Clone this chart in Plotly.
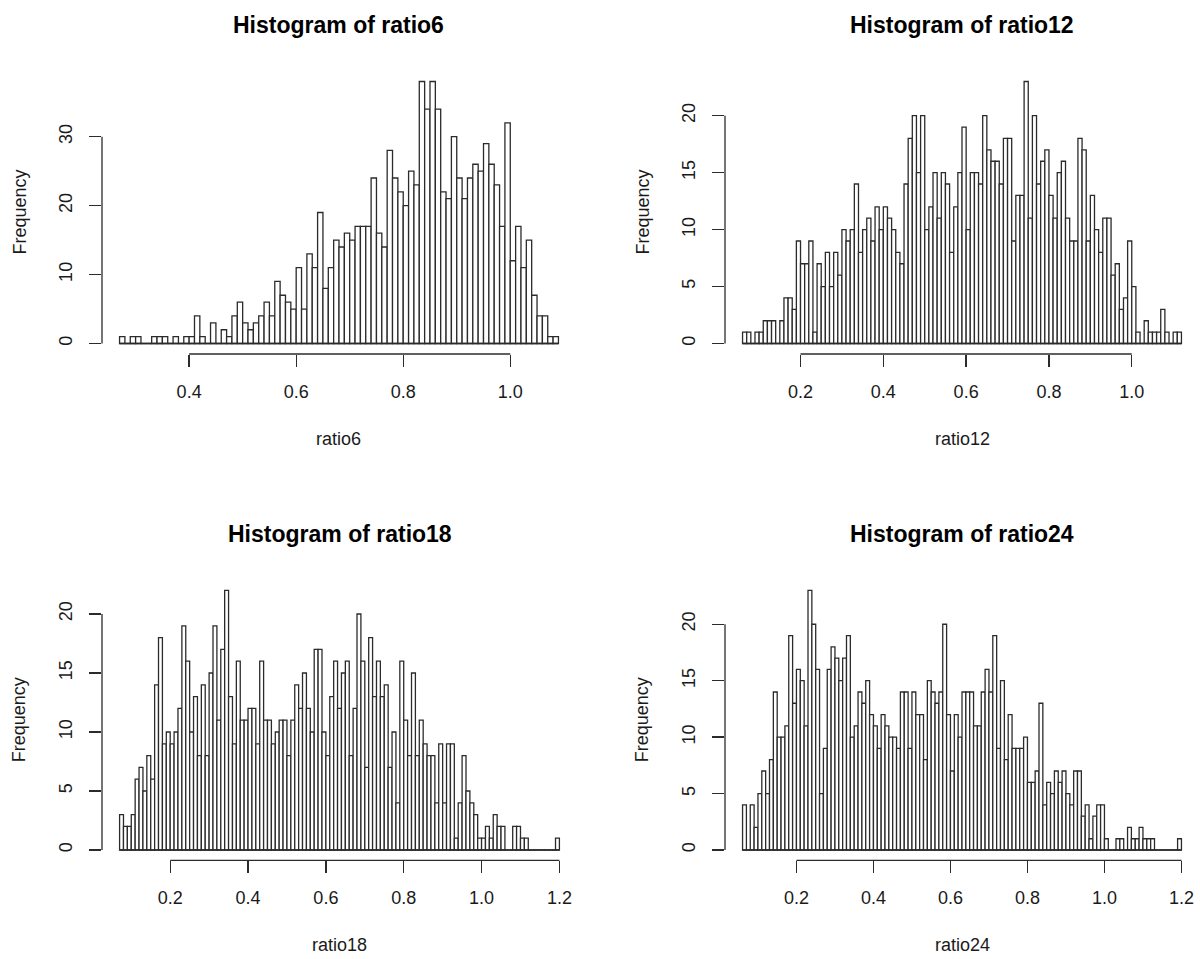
import numpy as np
import plotly.graph_objects as go

# ---------------- data (bin counts) ----------------
bin_width = 0.01

ratio6_start = 0.27
ratio6_counts = [1, 0, 1, 1, 0, 0, 1, 1, 1, 0,
                 1, 0, 1, 1, 4, 1, 0, 3, 0, 2,
                 1, 4, 6, 3, 2, 3, 4, 6, 4, 9,
                 7, 6, 5, 11, 5, 13, 11, 19, 8, 11,
                 15, 14, 16, 15, 17, 17, 17, 24, 16, 14,
                 28, 24, 22, 20, 25, 23, 38, 34, 38, 34,
                 22, 21, 30, 24, 21, 24, 26, 25, 29, 26,
                 23, 17, 32, 12, 17, 11, 15, 7, 4, 4,
                 1, 1]

ratio12_start = 0.06
ratio12_counts = [1, 1, 0, 1, 1, 2, 2, 2, 0, 2,
                  4, 4, 3, 9, 7, 7, 9, 1, 7, 5,
                  8, 5, 8, 6, 10, 9, 10, 14, 8, 10,
                  11, 9, 12, 10, 12, 11, 10, 8, 7, 14,
                  18, 20, 15, 20, 10, 12, 15, 11, 15, 14,
                  8, 12, 15, 19, 10, 15, 15, 14, 20, 17,
                  16, 16, 14, 18, 18, 9, 13, 13, 23, 11,
                  20, 14, 16, 17, 13, 11, 15, 16, 11, 9,
                  9, 18, 17, 9, 13, 10, 8, 11, 11, 6,
                  7, 3, 4, 9, 5, 1, 0, 2, 1, 1,
                  1, 3, 1, 0, 1, 1]

ratio18_start = 0.07
ratio18_counts = [3, 2, 2, 3, 6, 7, 5, 8, 6, 14,
                  18, 9, 10, 9, 10, 12, 19, 16, 10, 13,
                  8, 14, 8, 15, 19, 11, 17, 22, 13, 9,
                  16, 11, 11, 12, 12, 9, 16, 11, 11, 9,
                  10, 11, 11, 8, 11, 14, 12, 15, 12, 10,
                  17, 17, 10, 8, 13, 16, 12, 15, 16, 8,
                  12, 20, 16, 7, 18, 13, 16, 13, 14, 7,
                  10, 4, 16, 11, 8, 15, 8, 11, 9, 8,
                  8, 4, 9, 4, 9, 9, 1, 4, 8, 5,
                  4, 3, 1, 1, 2, 1, 3, 2, 2, 0,
                  0, 2, 2, 1, 1, 0, 0, 0, 0, 0,
                  0, 0, 1]

ratio24_start = 0.06
ratio24_counts = [4, 0, 4, 2, 5, 7, 5, 8, 14, 10,
                  10, 11, 19, 13, 16, 15, 11, 23, 20, 16,
                  5, 9, 16, 18, 17, 15, 17, 19, 10, 11,
                  14, 13, 15, 12, 11, 9, 12, 11, 10, 10,
                  9, 14, 14, 9, 14, 12, 12, 8, 15, 14,
                  13, 14, 20, 12, 7, 12, 10, 14, 14, 14,
                  11, 11, 14, 16, 14, 19, 9, 15, 8, 12,
                  9, 9, 9, 10, 6, 6, 7, 13, 4, 6,
                  5, 7, 6, 7, 5, 4, 7, 7, 3, 4,
                  1, 3, 4, 4, 1, 0, 0, 1, 1, 0,
                  2, 1, 1, 2, 1, 1, 1, 0, 0, 0,
                  0, 0, 0, 1]

titles = ["Histogram of ratio6", "Histogram of ratio12",
          "Histogram of ratio18", "Histogram of ratio24"]
x_titles = ["ratio6", "ratio12", "ratio18", "ratio24"]
y_title = "Frequency"

x_ticks = [[0.4, 0.6, 0.8, 1.0],
           [0.2, 0.4, 0.6, 0.8, 1.0],
           [0.2, 0.4, 0.6, 0.8, 1.0, 1.2],
           [0.2, 0.4, 0.6, 0.8, 1.0, 1.2]]
y_ticks = [[0, 10, 20, 30],
           [0, 5, 10, 15, 20],
           [0, 5, 10, 15, 20],
           [0, 5, 10, 15, 20]]

starts = [ratio6_start, ratio12_start, ratio18_start, ratio24_start]
counts = [ratio6_counts, ratio12_counts, ratio18_counts, ratio24_counts]

# ---------------- layout geometry (pixels) ----------------
W, H = 1200, 959
# plot regions: left, right, top, bottom
regions = [(102, 576, 71, 354), (725, 1199, 71, 354),
           (102, 577, 580, 860.4), (725, 1199, 580, 860.4)]

FONT = "Liberation Sans, Arial, sans-serif"
LINE = "#2b2b2b"
TXT = "#1a1a1a"
LBL = 18

fig = go.Figure()
annotations = []
shapes = []

for i in range(4):
    c = np.array(counts[i], dtype=float)
    n = len(c)
    edges = starts[i] + bin_width * np.arange(n + 1)
    centers = edges[:-1] + bin_width / 2
    lo, hi = edges[0], edges[-1]
    xr = [lo - 0.04 * (hi - lo), hi + 0.04 * (hi - lo)]
    ymax = c.max()
    yr = [-0.04 * ymax, 1.04 * ymax]

    sfx = "" if i == 0 else str(i + 1)
    xa, ya = "x" + sfx, "y" + sfx

    # baseline (R draws zero-height bins as a line on 0)
    fig.add_trace(go.Scatter(x=[lo, hi], y=[0, 0], mode="lines",
                             line=dict(color=LINE, width=1.3),
                             xaxis=xa, yaxis=ya, showlegend=False,
                             hoverinfo="skip"))
    fig.add_trace(go.Bar(x=centers, y=c, width=bin_width,
                         marker=dict(color="white",
                                     line=dict(color=LINE, width=1.3)),
                         xaxis=xa, yaxis=ya, showlegend=False))

    L, R, T, B = regions[i]
    xdom = [L / W, R / W]
    ydom = [1 - B / H, 1 - T / H]

    fig.layout["xaxis" + sfx] = dict(
        domain=xdom, range=xr, anchor=ya, showgrid=False, zeroline=False,
        showline=False, ticks="outside", ticklen=12, tickwidth=1.3,
        tickcolor=LINE, tickvals=x_ticks[i],
        ticktext=[f"{v:.1f}" for v in x_ticks[i]],
        tickfont=dict(family=FONT, size=LBL, color=TXT),
        ticklabelstandoff=9, ticklabeloverflow="allow", fixedrange=True)
    fig.layout["yaxis" + sfx] = dict(
        domain=ydom, range=yr, anchor=xa, showgrid=False, zeroline=False,
        showline=False, ticks="outside", ticklen=12, tickwidth=1.3,
        tickcolor=LINE, tickvals=y_ticks[i],
        ticktext=[str(v) for v in y_ticks[i]], tickangle=-90,
        tickfont=dict(family=FONT, size=LBL, color=TXT),
        ticklabelstandoff=10, fixedrange=True)

    # R-style axis lines spanning first..last tick
    shapes.append(dict(type="line", xref=xa, yref=ya + " domain",
                       x0=x_ticks[i][0], x1=x_ticks[i][-1], y0=0, y1=0,
                       line=dict(color=LINE, width=1.3)))
    shapes.append(dict(type="line", xref=xa + " domain", yref=ya,
                       x0=0, x1=0, y0=y_ticks[i][0], y1=y_ticks[i][-1],
                       line=dict(color=LINE, width=1.3)))

    xc = (xdom[0] + xdom[1]) / 2
    yc = (ydom[0] + ydom[1]) / 2
    annotations.append(dict(text="<b>" + titles[i] + "</b>", xref="paper",
                            yref="paper", x=xc, y=1 - (T - 46) / H,
                            xanchor="center", yanchor="middle",
                            showarrow=False,
                            font=dict(family=FONT, size=23, color="black")))
    annotations.append(dict(text=x_titles[i], xref="paper", yref="paper",
                            x=xc, y=1 - (B + 85) / H, xanchor="center",
                            yanchor="middle", showarrow=False,
                            font=dict(family=FONT, size=LBL, color=TXT)))
    annotations.append(dict(text=y_title, xref="paper", yref="paper",
                            x=(L - 83) / W, y=yc, xanchor="center",
                            yanchor="middle", textangle=-90,
                            showarrow=False,
                            font=dict(family=FONT, size=LBL, color=TXT)))

fig.update_layout(width=W, height=H, margin=dict(l=0, r=0, t=0, b=0),
                  paper_bgcolor="white", plot_bgcolor="white",
                  bargap=0, barmode="overlay",
                  annotations=annotations, shapes=shapes)

fig.write_html("out.html",
               config={"displayModeBar": False, "staticPlot": True},
               post_script="document.body.style.margin='0';"
                           "document.body.style.padding='0';"
                           "document.body.style.overflow='hidden';")
